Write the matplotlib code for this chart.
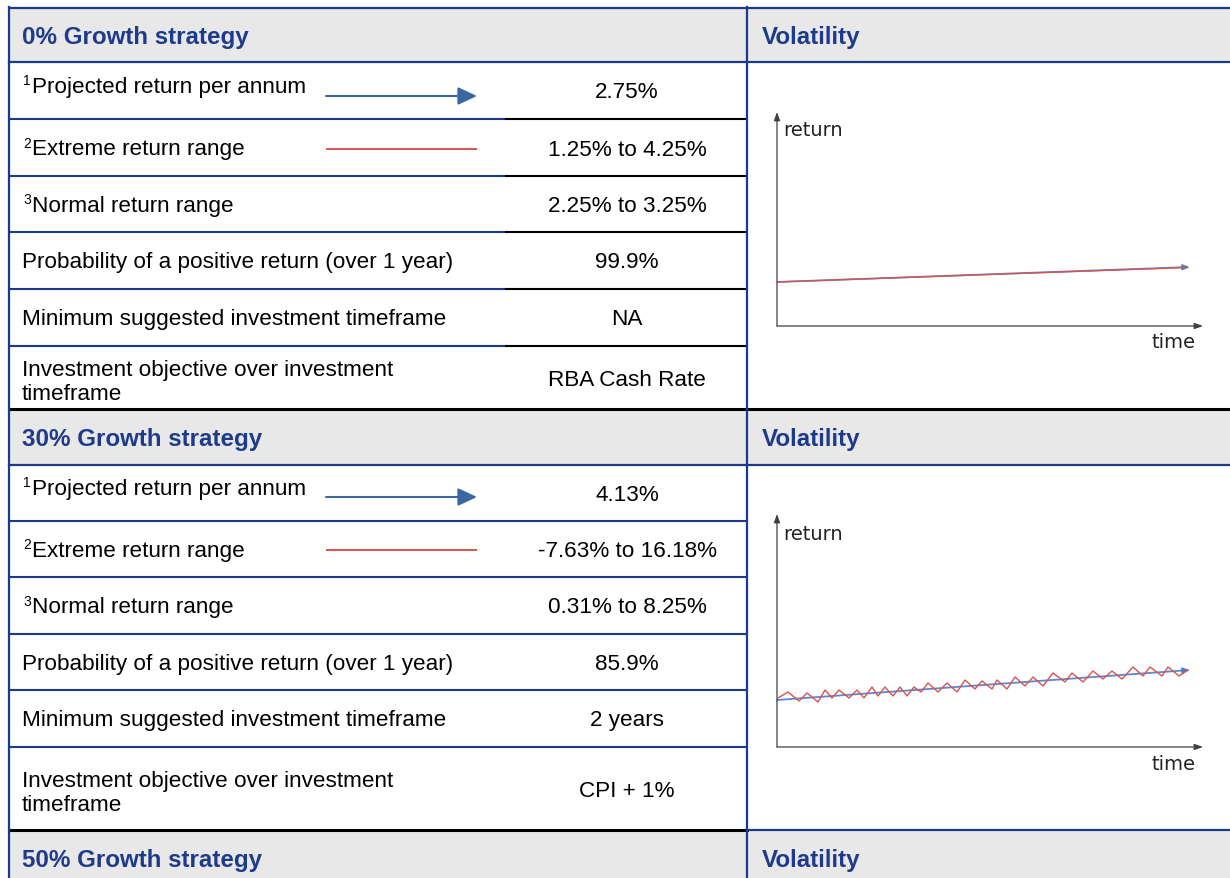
import matplotlib
matplotlib.use("Agg")
import matplotlib.pyplot as plt

# ---------------- data ----------------
strategies = ["0% Growth strategy", "30% Growth strategy", "50% Growth strategy"]
panel_title = "Volatility"
row_notes = ["1", "2", "3", "", "", ""]
row_labels = ["Projected return per annum",
              "Extreme return range",
              "Normal return range",
              "Probability of a positive return (over 1 year)",
              "Minimum suggested investment timeframe",
              "Investment objective over investment\ntimeframe"]
values_0 = ["2.75%", "1.25% to 4.25%", "2.25% to 3.25%", "99.9%", "NA", "RBA Cash Rate"]
values_30 = ["4.13%", "-7.63% to 16.18%", "0.31% to 8.25%", "85.9%", "2 years", "CPI + 1%"]

# volatility sketch, 0% growth
trend0_time = [0, 413]
trend0_return = [44, 59]
range0_time = [0, 410]
range0_return = [44, 58.5]

# volatility sketch, 30% growth
trend30_time = [0, 413]
trend30_return = [47, 77]
range30_time = [1, 11, 22, 30, 41, 48, 55, 62, 72, 80, 87, 95, 101, 108, 116, 123,
                130, 137, 144, 151, 161, 170, 180, 188, 198, 205, 215, 220, 230, 238,
                248, 256, 266, 276, 288, 295, 306, 316, 326, 335, 345, 356, 366, 373,
                385, 391, 402, 411]
range30_return = [49, 55, 46, 54, 45, 57, 49, 57, 49, 57, 49, 60, 51, 60, 51, 60,
                  51, 60, 55, 64, 55, 64, 55, 67, 58, 66, 58, 67, 58, 70,
                  61, 70, 61, 74, 65, 74, 65, 76, 68, 76, 68, 80, 71, 80,
                  71, 80, 71, 77]

# ---------------- style ----------------
BLUE = "#1B3A8C"
HEAD_TXT = "#1E3A8A"
GREY = "#E8E8E8"
ARROW_BLUE = "#3A67A2"
RED = "#D9534F"
TREND_BLUE = "#4A7BC8"
AXIS = "#404040"
TFONT = "Liberation Sans"
BODY = 16.2
HEAD = 17.4

W, H = 1230, 879
fig = plt.figure(figsize=(W / 100, H / 100), dpi=100)
ax = fig.add_axes([0, 0, 1, 1])
ax.set_xlim(0, W)
ax.set_ylim(H, 0)
ax.axis("off")

LEFT, MID, SPLIT, RIGHT = 9, 747, 506, W
LABEL_X, VALUE_X = 22, 627

sections = [
    dict(rows=[63, 120, 177, 233, 290, 347, 410], values=values_0, inner_black=True),
    dict(rows=[466, 522, 578, 635, 691, 748, 831], values=values_30, inner_black=False),
]
heads = [(9, 63, 36), (410, 466, 438), (831, 900, 859)]

# header backgrounds and titles
for (y0, y1, yc), name in zip(heads, strategies):
    ax.add_patch(plt.Rectangle((LEFT, y0), RIGHT - LEFT, y1 - y0, color=GREY, lw=0, zorder=0))
    ax.text(LABEL_X, yc + 1.5, name, fontsize=HEAD, fontweight="bold", color=HEAD_TXT,
            family=TFONT, va="center", ha="left")
    ax.text(762, yc + 1.5, panel_title, fontsize=HEAD, fontweight="bold", color=HEAD_TXT,
            family=TFONT, va="center", ha="left")

# rows
for si, sec in enumerate(sections):
    rows = sec["rows"]
    for i in range(6):
        y0, y1 = rows[i], rows[i + 1]
        yc = (y0 + y1) / 2 + 1.5
        ly = yc - 6 if i == 0 else yc
        if i == 5:
            ly = yc + 2.5
        if row_notes[i]:
            ax.text(LABEL_X + 1, ly - 6, row_notes[i], fontsize=10, family=TFONT,
                    va="center", ha="left", color="black")
            lx = LABEL_X + 10
        else:
            lx = LABEL_X
        ax.text(lx, ly, row_labels[i], fontsize=BODY, family=TFONT, va="center",
                ha="left", color="black", linespacing=1.2)
        ax.text(VALUE_X, yc + (1 if i == 5 else 0), sec["values"][i], fontsize=BODY,
                family=TFONT, va="center", ha="center", color="black")
    # legend glyphs
    ya = (rows[0] + rows[1]) / 2 + (5.5 if si == 0 else 4)
    ax.annotate("", xy=(477, ya), xytext=(326, ya),
                arrowprops=dict(arrowstyle="-|>,head_length=0.58,head_width=0.27",
                                mutation_scale=20, color=ARROW_BLUE, lw=1.5,
                                shrinkA=0, shrinkB=0))
    yr = (rows[1] + rows[2]) / 2 + 1
    ax.plot([326, 477], [yr, yr], color=RED, lw=1.4, solid_capstyle="butt")
    # inner row lines
    for yb in rows[1:-1]:
        if sec["inner_black"]:
            ax.plot([LEFT, SPLIT], [yb, yb], color=BLUE, lw=1.5)
            ax.plot([SPLIT, MID], [yb, yb], color="black", lw=1.5)
        else:
            ax.plot([LEFT, MID], [yb, yb], color=BLUE, lw=1.5)

# header borders
ax.plot([LEFT, RIGHT], [9, 9], color=BLUE, lw=1.6)
ax.plot([LEFT, RIGHT], [63, 63], color=BLUE, lw=1.6)
ax.plot([LEFT, RIGHT], [410, 410], color="black", lw=2.2)
ax.plot([LEFT, RIGHT], [466, 466], color=BLUE, lw=1.6)
ax.plot([LEFT, MID], [831, 831], color="black", lw=2.2)
ax.plot([MID, RIGHT], [831, 831], color=BLUE, lw=1.6)
# vertical borders
ax.plot([LEFT, LEFT], [8, H], color=BLUE, lw=1.6)
ax.plot([MID, MID], [8, H], color=BLUE, lw=1.6)

# ---------------- volatility sketches ----------------
charts = [
    dict(box=(777, 327, 1203, 113), trend=(trend0_time, trend0_return),
         rng=(range0_time, range0_return), ret_y=131, time_y=343),
    dict(box=(777, 748, 1203, 515), trend=(trend30_time, trend30_return),
         rng=(range30_time, range30_return), ret_y=535, time_y=765),
]
for c in charts:
    x0, yb, x1, yt = c["box"]
    cax = fig.add_axes([x0 / W, 1 - yb / H, (x1 - x0) / W, (yb - yt) / H])
    wpx, hpx = x1 - x0, yb - yt
    cax.set_xlim(0, wpx)
    cax.set_ylim(0, hpx)
    cax.axis("off")
    ap = dict(arrowstyle="-|>,head_length=0.5,head_width=0.18", mutation_scale=10,
              color=AXIS, lw=0.9, shrinkA=0, shrinkB=0)
    cax.annotate("", xy=(wpx, 0), xytext=(0, 0), arrowprops=ap, annotation_clip=False)
    cax.annotate("", xy=(0, hpx), xytext=(0, 0), arrowprops=ap, annotation_clip=False)
    rt, rr = c["rng"]
    cax.plot(rt, rr, color=RED, lw=1.0, clip_on=False, zorder=3)
    tt, tr = c["trend"]
    cax.annotate("", xy=(tt[1], tr[1]), xytext=(tt[0], tr[0]),
                 arrowprops=dict(arrowstyle="-|>,head_length=0.5,head_width=0.2",
                                 mutation_scale=8, color=TREND_BLUE, lw=1.3,
                                 shrinkA=0, shrinkB=0, alpha=0.9),
                 annotation_clip=False, zorder=2)
    cax.text(6, yb - c["ret_y"], "return", fontsize=14, family="DejaVu Sans",
             color="#222222", va="center", ha="left", clip_on=False)
    cax.text(419, yb - c["time_y"], "time", fontsize=14, family="DejaVu Sans",
             color="#222222", va="center", ha="right", clip_on=False)

fig.savefig("out.png", dpi=100)
